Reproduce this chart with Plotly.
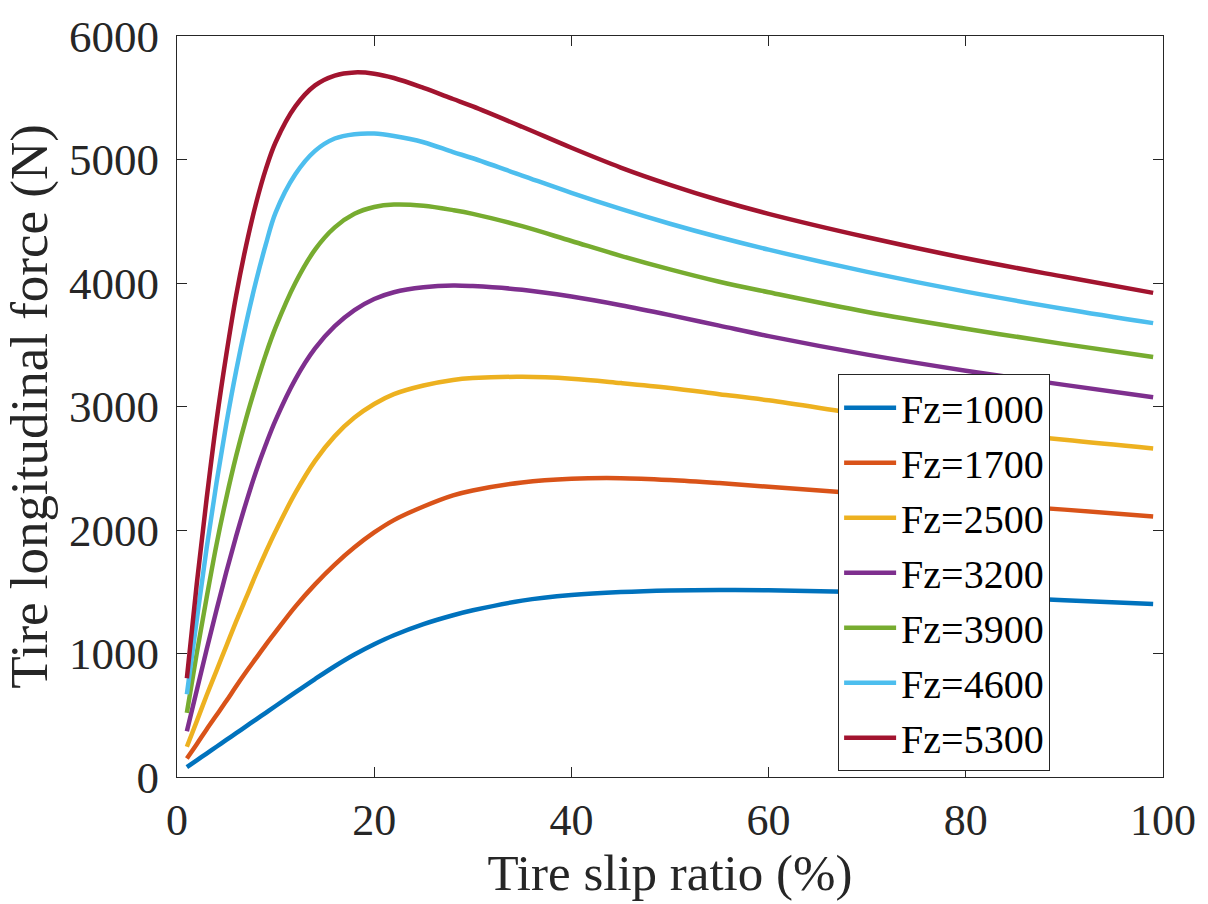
import plotly.graph_objects as go

# Tire slip ratio (%)
slip = [1, 2, 3, 4, 5, 6, 7, 8, 9, 10, 12, 14, 16, 18, 20, 22, 25, 28, 30,
        35, 40, 45, 50, 55, 60, 70, 80, 90, 99]

labels = ["Fz=1000", "Fz=1700", "Fz=2500", "Fz=3200", "Fz=3900", "Fz=4600", "Fz=5300"]

fx_1000 = [80, 135, 190, 245, 300, 355, 410, 465, 520, 575, 685, 793, 897, 992,
           1075, 1148, 1238, 1310, 1350, 1428, 1473, 1498, 1511, 1515, 1512,
           1495, 1465, 1432, 1400]
fx_1700 = [150, 265, 385, 500, 615, 735, 850, 960, 1070, 1175, 1380, 1560, 1720,
           1860, 1980, 2080, 2190, 2280, 2320, 2385, 2415, 2420, 2405, 2380, 2350,
           2290, 2220, 2165, 2110]
fx_2500 = [245, 450, 660, 860, 1060, 1260, 1450, 1640, 1820, 1990, 2300, 2560,
           2760, 2910, 3020, 3100, 3170, 3215, 3230, 3240, 3225, 3190, 3150, 3100,
           3050, 2930, 2820, 2730, 2660]
fx_3200 = [370, 700, 1030, 1350, 1660, 1950, 2220, 2470, 2690, 2890, 3220, 3470,
           3650, 3780, 3870, 3925, 3965, 3980, 3975, 3945, 3890, 3820, 3740, 3655,
           3570, 3420, 3290, 3175, 3075]
fx_3900 = [520, 1000, 1450, 1880, 2260, 2600, 2900, 3170, 3420, 3640, 4000, 4270,
           4450, 4560, 4615, 4635, 4625, 4590, 4560, 4460, 4340, 4220, 4110, 4010,
           3925, 3765, 3630, 3505, 3400]
fx_4600 = [670, 1270, 1850, 2380, 2860, 3290, 3670, 4010, 4310, 4570, 4880, 5070,
           5170, 5205, 5210, 5190, 5140, 5060, 5010, 4870, 4730, 4600, 4480, 4370,
           4270, 4090, 3930, 3790, 3675]
fx_5300 = [800, 1560, 2250, 2880, 3420, 3900, 4300, 4640, 4920, 5140, 5430, 5600,
           5680, 5705, 5695, 5660, 5580, 5490, 5430, 5265, 5095, 4935, 4795, 4670,
           4560, 4370, 4200, 4050, 3920]

series = [fx_1000, fx_1700, fx_2500, fx_3200, fx_3900, fx_4600, fx_5300]
colors = ["#0072BD", "#D95319", "#EDB120", "#7E2F8E", "#77AC30", "#4DBEEE", "#A2142F"]

x_ticks = [0, 20, 40, 60, 80, 100]
y_ticks = [0, 1000, 2000, 3000, 4000, 5000, 6000]

FONT = "Liberation Serif, Times New Roman, serif"
INK = "#262626"

fig = go.Figure()
for lab, ys, col in zip(labels, series, colors):
    fig.add_trace(go.Scatter(x=slip, y=ys, name=lab, mode="lines",
                             line=dict(color=col, width=4.5, shape="spline", smoothing=1.0)))

axis_common = dict(showgrid=False, zeroline=False, showline=True, linecolor=INK,
                   linewidth=1, mirror="allticks", ticks="inside", ticklen=10,
                   tickwidth=1, tickcolor=INK)

fig.update_layout(
    width=1208, height=904,
    margin=dict(l=177, r=40, t=30, b=127),
    paper_bgcolor="white", plot_bgcolor="white",
    font=dict(family=FONT, color=INK),
    xaxis=dict(range=[0, 100], tickvals=x_ticks, tickfont=dict(size=44, family=FONT, color=INK),
               title=dict(text="Tire slip ratio (%)", font=dict(size=51, family=FONT, color=INK), standoff=8),
               ticklabelstandoff=4, **axis_common),
    yaxis=dict(range=[0, 6000], tickvals=y_ticks, tickfont=dict(size=45, family=FONT, color=INK),
               title=dict(text="Tire longitudinal force (N)", font=dict(size=53, family=FONT, color=INK), standoff=8),
               ticklabelstandoff=8, **axis_common),
    legend=dict(x=0.6705, y=0.5435, xanchor="left", yanchor="top",
                bgcolor="white", bordercolor=INK, borderwidth=1,
                font=dict(size=40, family=FONT, color="black"),
                itemwidth=52, tracegroupgap=0),
    showlegend=True,
)

fig.write_html("out.html")
